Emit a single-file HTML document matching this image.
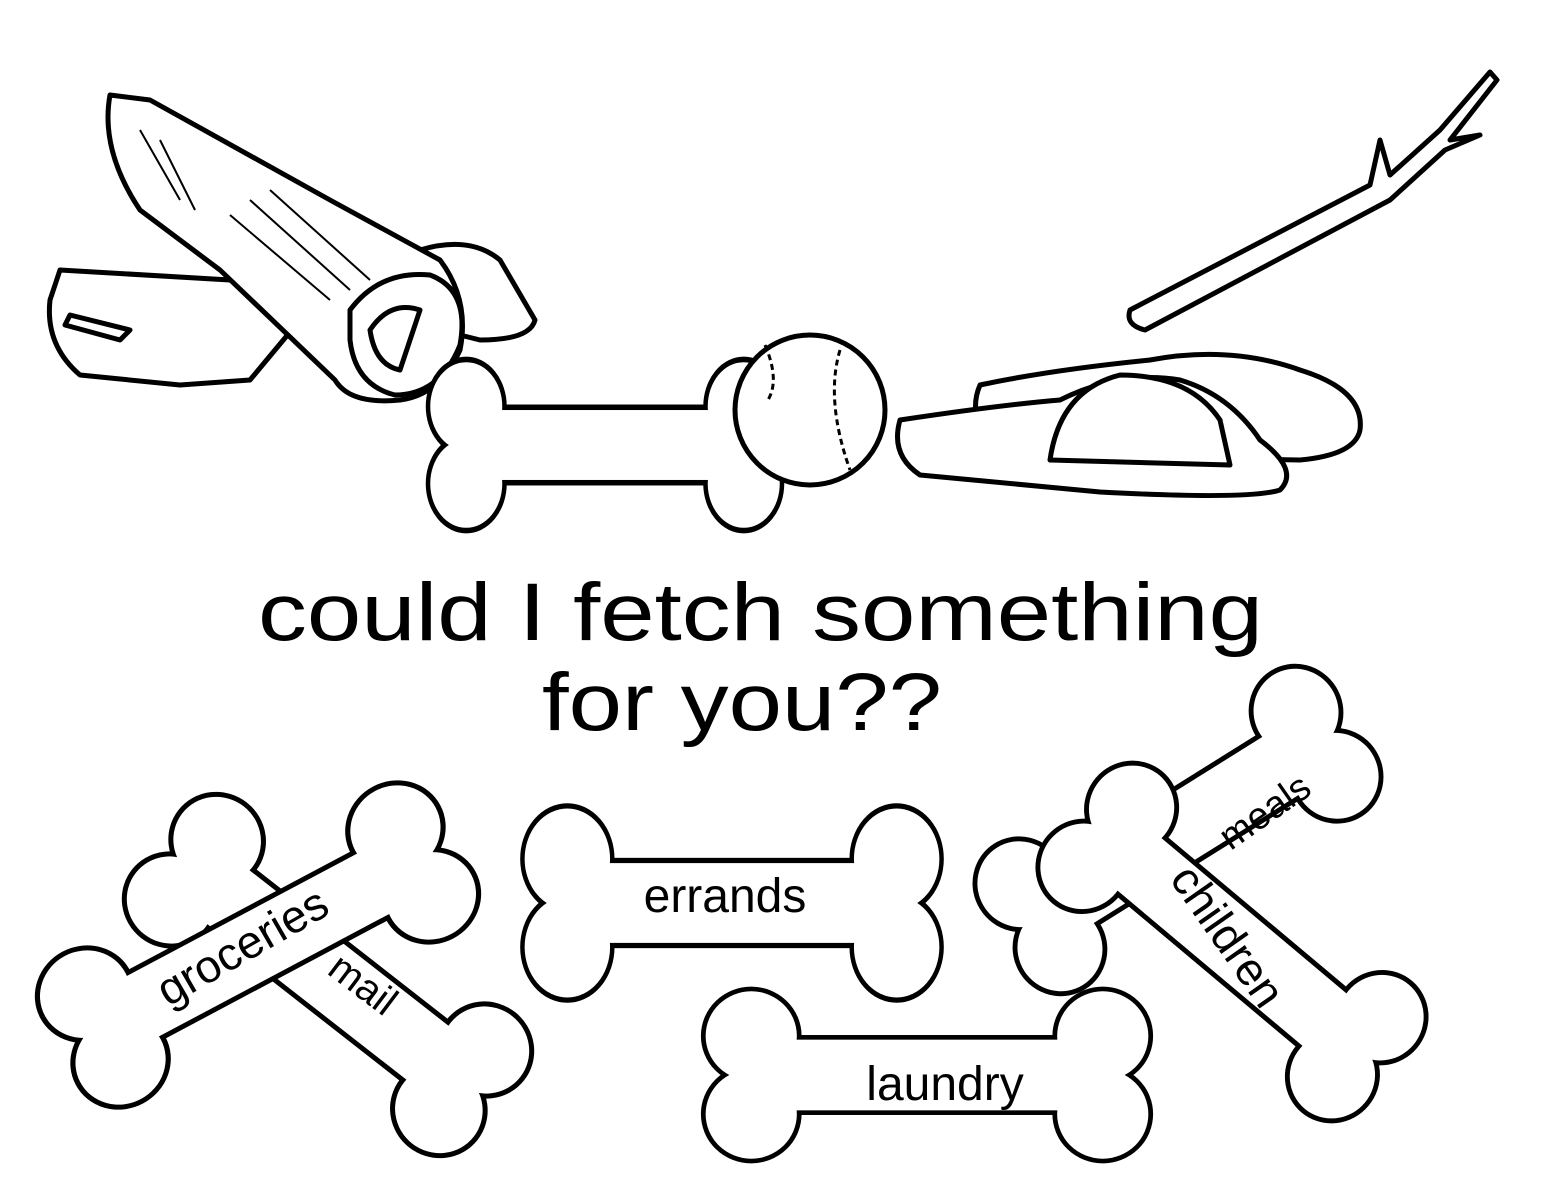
<!DOCTYPE html>
<html><head><meta charset="utf-8"><style>
html,body{margin:0;padding:0;background:#fff;}
svg{display:block}
text{font-family:"Liberation Sans",sans-serif;fill:#000}
</style></head><body>
<svg width="1552" height="1193" viewBox="0 0 1552 1193" xmlns="http://www.w3.org/2000/svg">
<defs>
<g id="boneK">
 <rect x="-170" y="-38" width="340" height="76"/>
 <circle cx="-185" cy="-42" r="48"/><circle cx="-185" cy="42" r="48"/>
 <circle cx="185" cy="-42" r="48"/><circle cx="185" cy="42" r="48"/>
</g>
</defs>
<rect width="1552" height="1193" fill="#fff"/>

<!-- newspapers -->
<g fill="#fff" stroke="#000" stroke-width="5" stroke-linejoin="round">
 <path d="M60,270 L230,280 L300,320 L250,380 L180,385 L80,375 Q45,345 50,300 Z"/>
 <path d="M420,250 Q470,235 500,260 L535,320 Q530,340 480,340 L440,330 Z"/>
 <path d="M110,95 L150,100 L330,200 L440,260 Q470,300 460,350 Q440,395 400,400 Q350,405 335,380 L220,270 L140,210 Q100,150 110,95 Z"/>
 <path d="M350,310 Q380,270 430,275 Q470,290 460,345 Q440,395 395,395 Q355,385 350,340 Z"/>
 <path d="M370,330 Q390,300 420,310 L400,370 Q375,365 370,330 Z"/>
 <path d="M70,315 L130,330 L120,340 L65,325 Z"/>
</g>
<g stroke="#000" stroke-width="2" fill="none">
 <path d="M230,215 L330,300 M250,200 L350,290 M270,190 L370,280"/>
 <path d="M140,130 L180,200 M160,140 L195,210"/>
</g>

<!-- stick -->
<g stroke="#000" stroke-width="5" fill="#fff" stroke-linejoin="round">
 <path d="M1130,310 L1370,185 L1380,140 L1390,175 L1440,130 L1490,72 L1497,80 L1450,140 L1480,135 L1445,150 L1390,200 L1145,330 Q1125,325 1130,310 Z"/>
</g>

<!-- top bone -->
<g transform="translate(605,445) scale(0.75,0.92)">
 <use href="#boneK" fill="#000" stroke="#000" stroke-width="12"/>
 <use href="#boneK" fill="#fff"/>
</g>
<!-- ball -->
<circle cx="810" cy="410" r="75" fill="#fff" stroke="#000" stroke-width="5"/>
<path d="M765,345 Q780,380 768,400 M840,350 Q825,400 850,470" stroke="#000" stroke-width="3" fill="none" stroke-dasharray="6 4"/>

<!-- slippers -->
<g fill="#fff" stroke="#000" stroke-width="5" stroke-linejoin="round">
 <path d="M980,385 Q1050,370 1150,360 Q1230,345 1300,370 Q1365,390 1360,430 Q1355,455 1300,460 L1000,455 Q965,420 980,385 Z"/>
 <path d="M900,420 Q1000,405 1060,400 Q1120,370 1180,380 Q1230,395 1260,440 Q1300,470 1280,490 Q1250,500 1100,492 L920,475 Q890,455 900,420 Z"/>
 <path d="M1050,460 Q1060,390 1120,375 Q1190,375 1220,420 L1230,465 Z"/>
</g>

<!-- title -->
<text x="258" y="640" font-size="82" textLength="1005" lengthAdjust="spacingAndGlyphs">could I fetch something</text>
<text x="542" y="730" font-size="82" textLength="400" lengthAdjust="spacingAndGlyphs">for you??</text>

<!-- bottom bones -->
<g transform="translate(328,975) rotate(38) scale(0.92,0.9)">
 <use href="#boneK" fill="#000" stroke="#000" stroke-width="11"/>
 <use href="#boneK" fill="#fff"/>
</g>
<g transform="translate(258,945) rotate(-28) scale(0.95,0.9)">
 <use href="#boneK" fill="#000" stroke="#000" stroke-width="11"/>
 <use href="#boneK" fill="#fff"/>
</g>
<text transform="translate(355,995) rotate(37)" font-size="40" text-anchor="middle">mail</text>
<text transform="translate(250,960) rotate(-30)" font-size="46" text-anchor="middle">groceries</text>

<g transform="translate(732,903) scale(0.89,1.05)">
 <use href="#boneK" fill="#000" stroke="#000" stroke-width="10"/>
 <use href="#boneK" fill="#fff"/>
</g>
<text x="725" y="912" font-size="48" text-anchor="middle">errands</text>

<g transform="translate(927,1075) scale(0.95,0.93)">
 <use href="#boneK" fill="#000" stroke="#000" stroke-width="10"/>
 <use href="#boneK" fill="#fff"/>
</g>
<text x="945" y="1100" font-size="48" text-anchor="middle">laundry</text>

<g transform="translate(1178,830) rotate(-32) scale(0.88,0.9)">
 <use href="#boneK" fill="#000" stroke="#000" stroke-width="11"/>
 <use href="#boneK" fill="#fff"/>
</g>
<text transform="translate(1272,822) rotate(-35)" font-size="38" text-anchor="middle">meals</text>
<g transform="translate(1232,942) rotate(40) scale(0.88,0.9)">
 <use href="#boneK" fill="#000" stroke="#000" stroke-width="11"/>
 <use href="#boneK" fill="#fff"/>
</g>
<text transform="translate(1215,945) rotate(55)" font-size="46" text-anchor="middle">children</text>
</svg>
</body></html>
